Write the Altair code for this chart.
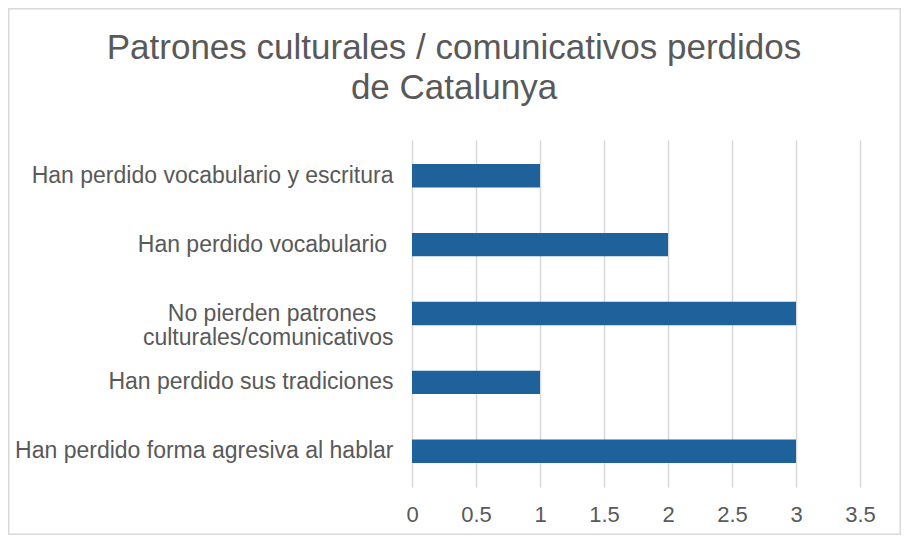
import altair as alt
import pandas as pd

categories = [
    "Han perdido vocabulario y escritura",
    "Han perdido vocabulario \u200b",
    "No pierden patrones\u2002\u2005\u200b|culturales/comunicativos",
    "Han perdido sus tradiciones",
    "Han perdido forma agresiva al hablar",
]
values = [1, 2, 3, 1, 3]
x_ticks = [0, 0.5, 1, 1.5, 2, 2.5, 3, 3.5]
title_lines = ["Patrones culturales / comunicativos perdidos", "de Catalunya"]

df = pd.DataFrame({"cat": categories, "val": values})

FONT = "Liberation Sans"
GREY = "#595959"
W, H = 448, 347
PL, PT, PR, PB = 404, 132, 41, 48

bars = alt.Chart(df).mark_bar(color="#1E619B").encode(
    y=alt.Y(
        "cat:N",
        sort=categories,
        title=None,
        scale=alt.Scale(paddingInner=0.66, paddingOuter=0.35),
        axis=alt.Axis(
            ticks=False,
            domain=False,
            labelFontSize=23,
            labelFont=FONT,
            labelColor=GREY,
            labelPadding=19,
            labelLimit=400,
            labelLineHeight=24,
            labelExpr="split(datum.label, '|')",
        ),
    ),
    x=alt.X(
        "val:Q",
        title=None,
        scale=alt.Scale(domain=[0, 3.5], nice=False),
        axis=alt.Axis(
            values=x_ticks,
            format="~g",
            ticks=False,
            domain=False,
            grid=True,
            gridColor="#d9d9d9",
            gridWidth=1.5,
            labelFontSize=22,
            labelFont=FONT,
            labelColor=GREY,
            labelPadding=17,
            labelFlush=False,
            labelOverlap=False,
        ),
    ),
)

border = alt.Chart(pd.DataFrame({"a": [0]})).mark_rect(
    fill=None, stroke="#d9d9d9", strokeWidth=1.5
).encode(
    x=alt.value(-PL + 0.75),
    x2=alt.value(W + PR - 0.75),
    y=alt.value(-PT + 0.75),
    y2=alt.value(H + PB - 0.75),
)

chart = alt.layer(bars, border).properties(
    width=W,
    height=H,
    autosize=alt.AutoSizeParams(type="none"),
    padding={"left": PL, "top": PT, "right": PR, "bottom": PB},
    title=alt.TitleParams(
        text=title_lines,
        font=FONT,
        fontSize=35,
        fontWeight="normal",
        color=GREY,
        anchor="middle",
        frame="group",
        dx=-182,
        offset=0,
        dy=98,
        lineHeight=40,
    ),
).configure_view(stroke=None)

chart.save("out.html", embed_options={"renderer": "svg", "actions": False})
